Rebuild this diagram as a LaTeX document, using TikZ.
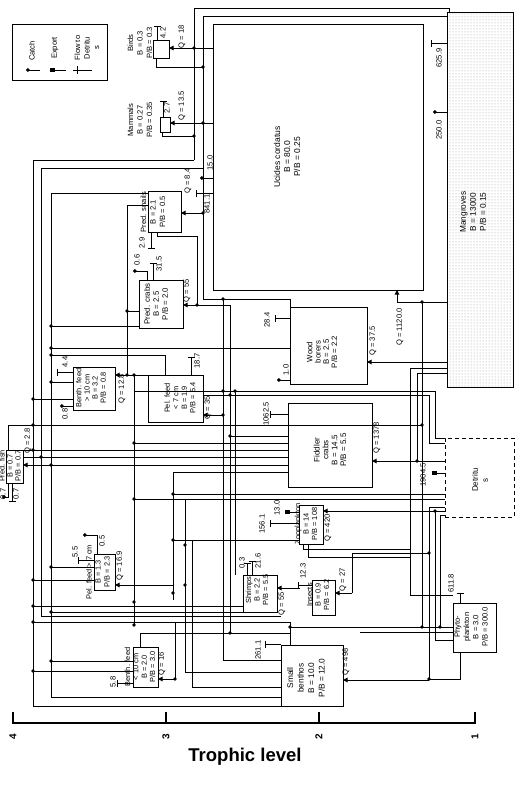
\documentclass[tikz,border=0pt]{standalone}
\usepackage{fontspec}
\setmainfont{Liberation Sans}
\usetikzlibrary{arrows.meta,patterns}
\begin{document}
\begin{tikzpicture}[x=1pt,y=-1pt,
  bx/.style={draw,line width=1pt,inner sep=0pt,outer sep=0pt},
  tx/.style={rotate=90,align=center,inner sep=0pt,font=\fontsize{7.6}{8.8}\selectfont},
  ln/.style={line width=1pt},
  ar/.style={ln,-{Triangle[length=4.5pt,width=4.5pt]}},
  ct/.style={ln,-{Circle[length=3.6pt]}},
  ex/.style={ln,-{Rectangle[length=4.5pt,width=3.2pt]}},
  fd/.style={ln,-{Bar[width=7pt]}},
  jd/.style={circle,fill,inner sep=0pt,minimum size=3.8pt}]
\useasboundingbox (0,0) rectangle (519,785);
% boxes
\node[bx,minimum width=95,minimum height=56] (legend) at (59.5,52) {};
\node[bx,minimum width=16,minimum height=18] (birds) at (161,49) {};
\node[bx,minimum width=10,minimum height=15] (mammals) at (165,124.5) {};
\node[bx,minimum width=210,minimum height=266] (ucides) at (318,157) {};
\node[bx,minimum width=66,minimum height=375,pattern=dots,pattern color=gray!80] (mangroves) at (480,199.5) {};
\node[bx,minimum width=33,minimum height=41] (predsnails) at (164.5,211.5) {};
\node[bx,minimum width=44,minimum height=48] (predcrabs) at (161,304) {};
\node[bx,minimum width=77,minimum height=77] (wood) at (328.5,345.5) {};
\node[bx,minimum width=42,minimum height=43] (benthbig) at (94,388.5) {};
\node[bx,minimum width=55,minimum height=47] (pelmid) at (175.5,398.5) {};
\node[bx,minimum width=17,minimum height=33] (predfish) at (14.5,466.5) {};
\node[bx,minimum width=21,minimum height=36] (pelbig) at (104.5,572) {};
\node[bx,minimum width=25,minimum height=40] (benthsm) at (145.5,667) {};
\node[bx,minimum width=34,minimum height=37] (shrimps) at (260,593.5) {};
\node[bx,minimum width=23,minimum height=35] (insects) at (323.5,597.5) {};
\node[bx,minimum width=24,minimum height=39] (zoo) at (311,524.5) {};
\node[bx,minimum width=84,minimum height=84] (fiddler) at (330,445) {};
\node[bx,dashed,dash pattern=on 4pt off 3pt,minimum width=69,minimum height=79] (detritus) at (479.5,477.5) {};
\node[bx,minimum width=43,minimum height=49] (phyto) at (474.5,627.5) {};
\node[bx,minimum width=62,minimum height=61] (smallb) at (312,675.5) {};
% texts
\node[tx] (t-catch) at (32,51) {Catch};
\node[tx] (t-export) at (55,48) {Export};
\node[tx,font=\fontsize{7.6}{9.5}\selectfont] (t-flow) at (87,48) {Flow to\\Detritu\\s};
\node[tx,font=\fontsize{7.6}{9.5}\selectfont] (t-birds) at (140,43) {Birds\\B = 0.3\\P/B = 0.3};
\node[tx,font=\fontsize{7.6}{9.5}\selectfont] (t-mammals) at (140,120) {Mammals\\B = 0.27\\P/B = 0.35};
\node[tx,font=\fontsize{8.5}{10}\selectfont] (t-ucides) at (287,157) {Ucides cordatus\\B = 80.0\\P/B = 0.25};
\node[tx,font=\fontsize{8.3}{10}\selectfont] (t-mang) at (473,212) {Mangroves\\B = 13000\\P/B = 0.15};
\node[tx,font=\fontsize{7.6}{9.5}\selectfont] (t-psn) at (153,212) {Pred. snails\\B = 2.1\\P/B = 0.5};
\node[tx,font=\fontsize{7.8}{9}\selectfont] (t-pcr) at (156,304) {Pred. crabs\\B = 2.5\\P/B = 2.0};
\node[tx,font=\fontsize{7.8}{8.2}\selectfont] (t-wood) at (322,352) {Wood\\borers\\B = 2.5\\P/B = 2.2};
\node[tx,font=\fontsize{7.4}{8.2}\selectfont] (t-bbig) at (91,388) {Benth. feed\\> 10 cm\\B = 3.2\\P/B = 0.8};
\node[tx,font=\fontsize{7.4}{8.5}\selectfont] (t-pmid) at (180,398) {Pel. feed\\< 7 cm\\B = 1.9\\P/B = 5.4};
\node[tx,font=\fontsize{7.4}{8}\selectfont] (t-pfish) at (10,466) {Pred. fish\\B = 0.7\\P/B = 0.7};
\node[tx,font=\fontsize{7.4}{9}\selectfont] (t-pbig) at (98,572) {Pel. feed > 7 cm\\B = 1.3\\P/B = 2.3};
\node[tx,font=\fontsize{7.4}{8.4}\selectfont] (t-bsm) at (140,667) {Benth. feed\\< 10 cm\\B = 2.0\\P/B = 3.0};
\node[tx,font=\fontsize{7.4}{8.5}\selectfont] (t-shr) at (257,590) {Shrimps\\B = 2.2\\P/B = 5.5};
\node[tx,font=\fontsize{7.4}{8.5}\selectfont] (t-ins) at (318,595) {Insects\\B = 0.9\\P/B = 6.2};
\node[tx,font=\fontsize{7.4}{8.5}\selectfont] (t-zoo) at (306,524) {Zooplankton\\B = 14\\P/B = 108};
\node[tx,font=\fontsize{8}{8.8}\selectfont] (t-fid) at (330,450) {Fiddler\\crabs\\B = 14.5\\P/B = 5.5};
\node[tx,font=\fontsize{8}{10}\selectfont] (t-det) at (480,480) {Detritu\\s};
\node[tx,font=\fontsize{7.6}{9.3}\selectfont] (t-phy) at (471,627) {Phyto-\\plankton\\B = 3.0\\P/B = 300.0};
\node[tx,font=\fontsize{8.3}{10.5}\selectfont] (t-smb) at (306,678) {Small\\benthos\\B = 10.0\\P/B = 12.0};
% flow labels
\node[tx] at (163,33) {4.2};
\node[tx] at (182,37) {Q = 18};
\node[tx] at (167,108) {2.7};
\node[tx] at (182,106) {Q = 13.5};
\node[tx] at (210,163) {15.0};
\node[tx] at (207,204) {841.1};
\node[tx] at (188,181) {Q = 8.4};
\node[tx] at (142,243) {2.9};
\node[tx] at (137,260) {0.6};
\node[tx] at (159,264) {31.5};
\node[tx] at (187,291) {Q = 55};
\node[tx] at (267,320) {28.4};
\node[tx] at (286,370) {1.0};
\node[tx] at (373,341) {Q = 37.5};
\node[tx] at (400,327) {Q = 1120.0};
\node[tx] at (439,58) {625.9};
\node[tx] at (439,130) {250.0};
\node[tx] at (65,362) {4.4};
\node[tx] at (65,414) {0.8};
\node[tx] at (122,389) {Q = 12.8};
\node[tx] at (197,361) {18.7};
\node[tx] at (208,408) {Q = 35};
\node[tx] at (28,441) {Q = 2.8};
\node[tx] at (3,494) {0.7};
\node[tx] at (16,494) {0.7};
\node[tx] at (75,552) {5.5};
\node[tx] at (102,541) {0.5};
\node[tx] at (120,566) {Q = 16.9};
\node[tx] at (113,682) {5.8};
\node[tx] at (162,664) {Q = 16};
\node[tx] at (242,563) {0.3};
\node[tx] at (258,561) {21.6};
\node[tx] at (282,604) {Q = 55};
\node[tx] at (303,571) {12.3};
\node[tx] at (343,580) {Q = 27};
\node[tx] at (262,524) {156.1};
\node[tx] at (277,508) {13.0};
\node[tx] at (328,528) {Q = 420};
\node[tx] at (266,414) {1062.5};
\node[tx] at (377,438) {Q = 1378};
\node[tx] at (423,475) {1904.5};
\node[tx] at (451,583) {611.8};
\node[tx] at (258,650) {261.1};
\node[tx] at (346,662) {Q = 498};
% legend symbols
\draw[ct] (40,70) -- (26,70);
\draw[ex] (66,70) -- (50,70);
\draw[ln] (92,70) -- (73,70); \draw[ln] (77,66) -- (77,74);
% trunk lines
\draw[ln] (194,160) -- (194,8) -- (449,8) -- (449,12);
\draw[ln] (203,16) -- (447,16);
\draw[ln] (203,16) -- (203,299) -- (290,299) -- (290,307);
\draw[ln] (33,160) -- (194,160);
\draw[ln] (41,168) -- (203,168);
\draw[ln] (33,160) -- (33,706) -- (281,706);
\draw[ln] (41,168) -- (41,616) -- (281,616);
\draw[ln] (148,193) -- (51,193) -- (51,697) -- (281,697);
% birds / mammals
\draw[ar] (213,48) -- (169,48);
\draw[ln] (156,58) -- (156,67) -- (203,67);
\draw[ar] (213,123) -- (170,123);
\draw[ln] (162,132) -- (162,136) -- (194,136);
\draw[fd] (157,40) -- (157,26);
\draw[fd] (163,117) -- (163,101);
\node[jd] at (194,48) {}; \node[jd] at (203,67) {};
\node[jd] at (203,123) {}; \node[jd] at (194,136) {};
% ucides
\draw[ct] (213,178) -- (200,178);
\draw[fd] (213,193) -- (196,193);
\draw[ar] (203,213) -- (181,213); \node[jd] at (203,213) {};
% mangroves
\draw[fd] (447,43) -- (431,43);
\draw[ct] (447,112) -- (433,112);
\draw[ar] (447,302) -- (397,302) -- (397,290);
\node[jd] at (422,302) {};
\draw[ln] (422,302) -- (422,627);
\draw[ar] (447,362) -- (367,362);
\draw[ln] (447,368) -- (410,368) -- (410,595) -- (453,595);
\draw[ln] (447,373) -- (417,373) -- (417,461);
\draw[ln] (134,391) -- (435,391) -- (435,438) -- (445,438);
\draw[ln] (203,395) -- (429,395) -- (429,443) -- (445,443);
\node[jd] at (223,391) {}; \node[jd] at (235,391) {}; \node[jd] at (230,395) {};
% pred snails
\draw[fd] (151,232) -- (151,249);
\draw[ln] (157,232) -- (157,236) -- (197,236) -- (197,305);
\draw[ar] (197,305) -- (183,305); \node[jd] at (197,305) {};
\draw[ln] (197,305) -- (230,305) -- (230,633);
\draw[ln] (148,205) -- (127,205) -- (127,375);
\node[jd] at (127,311) {}; \draw[ln] (127,311) -- (139,311);
% pred crabs
\draw[ct] (147,280) -- (147,271) -- (133,271);
\draw[fd] (153,280) -- (153,263);
\draw[ln] (139,326) -- (51,326);
\node[jd] at (51,326) {};
% wood borers
\draw[fd] (290,318) -- (275,318);
\draw[ct] (290,380) -- (277,380);
\draw[ln] (51,348) -- (290,348); \node[jd] at (51,348) {};
\draw[ln] (51,355) -- (165,355) -- (165,375); \node[jd] at (51,355) {};
\node[jd] at (223,299) {}; \draw[ln] (223,299) -- (223,660) -- (281,660);
\draw[ln] (235,391) -- (235,575);
% benth big / pel mid
\draw[fd] (73,372) -- (57,372);
\draw[ct] (73,406) -- (60,406);
\draw[ar] (148,375) -- (115,375);
\node[jd] at (127,375) {}; \node[jd] at (134,375) {};
\draw[ln] (134,375) -- (134,625);
\draw[ln] (51,382) -- (73,382); \node[jd] at (51,382) {};
\draw[ln] (33,399) -- (73,399); \node[jd] at (33,399) {};
\draw[fd] (191,375) -- (191,357);
\draw[ar] (223,415) -- (203,415); \node[jd] at (223,415) {};
% pred fish
\draw[ar] (288,465) -- (23,465); \node[jd] at (51,465) {};
\draw[ln] (8,450) -- (8,425) -- (422,425); \node[jd] at (33,425) {}; \node[jd] at (422,425) {};
\draw[ln] (23,450) -- (288,450); \node[jd] at (33,450) {};
\draw[ln] (23,457) -- (288,457); \node[jd] at (41,457) {};
\draw[ln] (134,443) -- (288,443); \node[jd] at (134,443) {};
\draw[ln] (230,436) -- (288,436); \node[jd] at (230,436) {};
\draw[ln] (173,472) -- (288,472); \draw[ln] (173,472) -- (173,600);
\draw[ln] (134,499) -- (445,499); \node[jd] at (134,499) {};
\draw[ln] (173,494) -- (445,494); \node[jd] at (173,494) {};
\node[jd] at (173,540) {}; \node[jd] at (173,593) {};
\draw[fd] (12,483) -- (12,502);
\draw[ct] (8,483) -- (8,497) -- (2,497);
% pel big
\draw[fd] (94,560) -- (78,560);
\draw[ct] (97,554) -- (97,535) -- (83,535);
\draw[ar] (173,585) -- (115,585);
\draw[ln] (51,567) -- (94,567); \node[jd] at (51,567) {};
\draw[ln] (33,580) -- (94,580); \node[jd] at (33,580) {};
\draw[ln] (173,540) -- (299,540);
% benth small
\draw[fd] (133,683) -- (117,683);
\draw[ar] (175,679) -- (158,679); \node[jd] at (175,679) {};
\draw[ln] (175,679) -- (175,622);
\draw[ln] (51,661) -- (133,661); \node[jd] at (51,661) {};
\draw[ln] (33,671) -- (133,671); \node[jd] at (33,671) {};
\draw[ln] (140,647) -- (140,633) -- (290,633); \node[jd] at (230,633) {};
\draw[ln] (33,606) -- (243,606); \node[jd] at (33,606) {};
\draw[ln] (51,612) -- (243,612); \node[jd] at (51,612) {};
\draw[ln] (33,622) -- (290,622); \node[jd] at (33,622) {};
\node[jd] at (134,602) {}; \node[jd] at (134,625) {};
\draw[ln] (185,499) -- (185,672) -- (281,672); \node[jd] at (185,545) {}; \node[jd] at (185,585) {};
\draw[ln] (192,540) -- (192,687) -- (281,687);
% zoo
\draw[fd] (299,523) -- (270,523);
\draw[ex] (299,512) -- (285,512);
\draw[ar] (445,511) -- (323,511); \node[jd] at (435,511) {};
\draw[ln] (445,507) -- (429,507) -- (429,679);
\draw[ln] (435,511) -- (435,640) -- (453,640);
\draw[ln] (445,515) -- (440,515) -- (440,627);
\node[jd] at (429,553) {}; \draw[ln] (429,553) -- (352,553) -- (352,593);
\draw[ln] (303,544) -- (303,549) -- (410,549);
\draw[ln] (308,544) -- (308,557) -- (410,557);
% fiddler
\draw[fd] (288,414) -- (270,414);
\draw[ar] (445,461) -- (372,461); \node[jd] at (417,461) {};
% detritus
\draw[ex] (445,473) -- (432,473);
% phyto
\draw[fd] (460,603) -- (460,593);
\draw[ln] (460,652) -- (460,679) -- (429,679);
\draw[ln] (290,627) -- (453,627); \node[jd] at (422,627) {}; \node[jd] at (440,627) {};
\draw[ln] (360,632) -- (453,632);
% small benthos
\draw[fd] (281,644) -- (265,644);
\draw[ar] (429,680) -- (343,680); \node[jd] at (429,679) {};
\draw[ln] (290,622) -- (290,645); \node[jd] at (290,627) {};
% shrimps / insects
\draw[ar] (300,588) -- (277,588);
\draw[ar] (352,593) -- (335,593);
\draw[fd] (247,575) -- (247,563);
\draw[fd] (252,575) -- (252,561);
\draw[fd] (312,585) -- (298,585);
% axis
\draw[line width=1.2pt] (13,712) -- (13,723) -- (475,723) -- (475,712);
\draw[line width=1.2pt] (166,712) -- (166,723);
\draw[line width=1.2pt] (319,712) -- (319,723);
\foreach \x/\t in {13/4,166/3,319/2,475/1} \node[rotate=90,font=\bfseries\fontsize{10}{11}\selectfont] at (\x,737) {\t};
\node[font=\bfseries\fontsize{18.5}{20}\selectfont] (axis-title) at (245,757) {Trophic level};
\end{tikzpicture}
\end{document}
